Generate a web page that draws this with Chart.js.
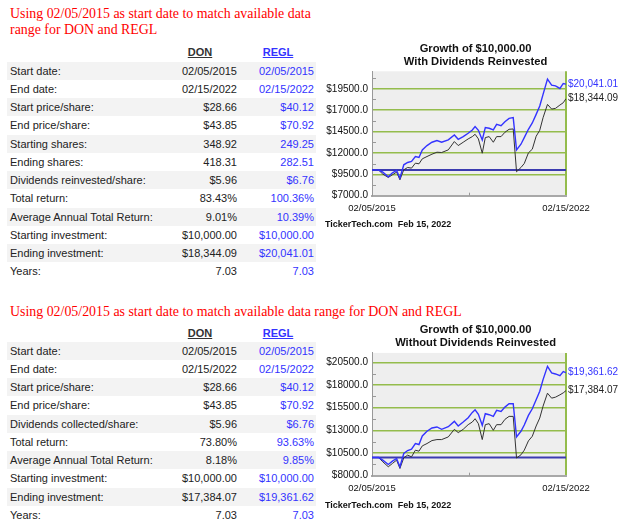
<!DOCTYPE html>
<html>
<head>
<meta charset="utf-8">
<script src="https://cdn.jsdelivr.net/npm/chart.js@4.4.1/dist/chart.umd.min.js"></script>
<style>
  html,body{margin:0;padding:0;}
  body{width:640px;height:527px;overflow:hidden;background:#fff;position:relative;font-family:"Liberation Sans",Arial,sans-serif;}
  .note{position:absolute;left:10px;color:#ff0000;font-family:"Liberation Serif","Times New Roman",serif;font-size:13.9px;line-height:15.5px;white-space:nowrap;}
  .hdr{position:absolute;font-size:11px;font-weight:bold;text-decoration:underline;line-height:14px;transform:translateX(-50%);}
  .row{position:absolute;left:7px;width:309px;height:18px;line-height:18px;font-size:11px;color:#222;}
  .row.alt{background:#f3f3f3;}
  .row span{position:absolute;top:0;white-space:nowrap;}
  .lbl{left:3px;}
  .don{right:79px;}
  .regl{right:2px;color:#3333ff;}
  canvas{position:absolute;left:320px;}
</style>
</head>
<body>
<div class="note" id="note1" style="top:6px;"></div>
<div class="note" id="note2" style="top:304px;"></div>
<div id="tables"></div>
<canvas id="c1" width="320" height="200" style="top:37px;"></canvas>
<canvas id="c2" width="320" height="200" style="top:318px;"></canvas>
<script>
// ---------- table data ----------
const noteLines1 = ["Using 02/05/2015 as start date to match available data", "range for DON and REGL"];
const noteLine2 = "Using 02/05/2015 as start date to match available data range for DON and REGL";
const tickers = ["DON", "REGL"];

const rowLabels1 = ["Start date:","End date:","Start price/share:","End price/share:","Starting shares:","Ending shares:","Dividends reinvested/share:","Total return:","Average Annual Total Return:","Starting investment:","Ending investment:","Years:"];
const donRows1  = ["02/05/2015","02/15/2022","$28.66","$43.85","348.92","418.31","$5.96","83.43%","9.01%","$10,000.00","$18,344.09","7.03"];
const reglRows1 = ["02/05/2015","02/15/2022","$40.12","$70.92","249.25","282.51","$6.76","100.36%","10.39%","$10,000.00","$20,041.01","7.03"];

const rowLabels2 = ["Start date:","End date:","Start price/share:","End price/share:","Dividends collected/share:","Total return:","Average Annual Total Return:","Starting investment:","Ending investment:","Years:"];
const donRows2  = ["02/05/2015","02/15/2022","$28.66","$43.85","$5.96","73.80%","8.18%","$10,000.00","$17,384.07","7.03"];
const reglRows2 = ["02/05/2015","02/15/2022","$40.12","$70.92","$6.76","93.63%","9.85%","$10,000.00","$19,361.62","7.03"];

// ---------- chart data ----------
const xYears = [2015.10,2015.34,2015.49,2015.69,2015.84,2015.99,
  2016.11,2016.25,2016.39,2016.53,2016.67,2016.80,2016.92,
  2017.09,2017.27,2017.45,2017.62,2017.86,
  2018.08,2018.22,2018.40,2018.58,2018.73,2018.83,2018.95,
  2019.09,2019.20,2019.34,2019.49,2019.61,2019.77,2019.91,
  2020.06,2020.21,2020.33,2020.49,2020.61,2020.76,2020.90,
  2021.04,2021.17,2021.29,2021.45,2021.60,2021.74,2021.90,
  2022.02,2022.12];

const reglWithDiv = [10000,10000,9756,9213,9679,9950,
  9057,10610,10882,10998,11581,11464,12357,
  12862,13250,13444,13250,13522,
  14104,13599,13910,14298,14686,15075,14647,
  13522,14958,14880,14686,15346,15191,15657,
  16045,16123,12357,13017,13793,14764,15502,
  16511,17481,18840,20626,19927,19849,19539,
  20121,20041.01];
const donWithDiv = [10000,10000,9523,9135,9446,9756,
  8863,10028,10300,10222,10804,10727,11309,
  11581,11852,12085,12047,12357,
  13328,12862,13250,13638,13910,14182,13638,
  11969,13793,13910,13250,13910,13910,14415,
  14764,14803,9800,10300,10765,12008,12435,
  13949,14647,16123,17675,17132,17210,17598,
  17870,18344.09];
const reglNoDiv = [10000,10000,9718,9243,9608,9900,
  8987,10449,10778,10924,11545,11436,12386,
  12898,13263,13373,13117,13409,
  13994,13482,13921,14396,14981,15273,14762,
  13555,14835,14725,14542,15200,15091,15566,
  15931,15931,12276,12898,13592,14652,15383,
  16370,17320,18599,20061,19330,19221,19038,
  19477,19361.62];
const donNoDiv = [10000,10000,9535,8987,9352,9718,
  8804,9974,10266,10083,10814,10705,11289,
  11545,11874,11984,11984,12276,
  13117,12751,13117,13629,13921,14286,13738,
  11984,13629,13738,13007,13629,13629,14213,
  14542,14542,9950,10303,10814,11838,12349,
  13482,14360,15675,17101,16553,16662,16918,
  17137,17384.07];

const baselineValue = 10000;
const xTickLabels = ["02/05/2015", "02/15/2022"];
const yTicks1 = [7000, 9500, 12000, 14500, 17000, 19500];
const yTicks2 = [8000, 10500, 13000, 15500, 18000, 20500];
const yMax = 21540;
const title1 = ["Growth of $10,000.00", "With Dividends Reinvested"];
const title2 = ["Growth of $10,000.00", "Without Dividends Reinvested"];
const footerText = "TickerTech.com  Feb 15, 2022";

// ---------- build tables ----------
document.getElementById('note1').innerHTML = noteLines1.join('<br>');
document.getElementById('note2').textContent = noteLine2;

function buildTable(hdrTop, rowTop, labels, don, regl) {
  const host = document.getElementById('tables');
  const h1 = document.createElement('div');
  h1.className = 'hdr'; h1.style.left = '200px'; h1.style.top = hdrTop + 'px'; h1.style.color = '#333';
  h1.textContent = tickers[0]; host.appendChild(h1);
  const h2 = document.createElement('div');
  h2.className = 'hdr'; h2.style.left = '278px'; h2.style.top = hdrTop + 'px'; h2.style.color = '#3333ff';
  h2.textContent = tickers[1]; host.appendChild(h2);
  labels.forEach((lab, i) => {
    const r = document.createElement('div');
    r.className = 'row' + (i % 2 === 0 ? ' alt' : '');
    r.style.top = (rowTop + i * 18.25) + 'px';
    r.innerHTML = '<span class="lbl"></span><span class="don"></span><span class="regl"></span>';
    r.children[0].textContent = lab;
    r.children[1].textContent = don[i];
    r.children[2].textContent = regl[i];
    host.appendChild(r);
  });
}
buildTable(45, 61.5, rowLabels1, donRows1, reglRows1);
buildTable(326, 341.7, rowLabels2, donRows2, reglRows2);

// ---------- charts ----------
const FONT = '"Liberation Sans", Arial, sans-serif';
const GREEN = '#94bc4c';

const bgPlugin = {
  id: 'plotBg',
  beforeDraw(chart) {
    const a = chart.chartArea, c = chart.ctx;
    c.save(); c.fillStyle = '#eeeeee';
    c.fillRect(a.left, a.top, a.right - a.left, a.bottom - a.top);
    c.restore();
  }
};

const minorTicksPlugin = {
  id: 'minorTicks',
  afterDraw(chart) {
    const y = chart.scales.y, x = chart.scales.x, a = chart.chartArea, c = chart.ctx;
    const majors = chart.options.plugins.minorTicks.majors;
    const step = majors[1] - majors[0];
    c.save(); c.strokeStyle = '#999'; c.lineWidth = 1;
    for (let v = majors[0] + step / 2; v < y.max; v += step) {
      const py = Math.round(y.getPixelForValue(v)) + 0.5;
      c.beginPath(); c.moveTo(a.left, py); c.lineTo(a.left + 4, py); c.stroke();
    }
    const px = Math.round(x.getPixelForValue((x.min + x.max) / 2)) + 0.5;
    c.beginPath(); c.moveTo(px, a.bottom); c.lineTo(px, a.bottom - 3); c.stroke();
    c.restore();
  }
};

const endLabelsPlugin = {
  id: 'endLabels',
  afterDatasetsDraw(chart) {
    const y = chart.scales.y, a = chart.chartArea, c = chart.ctx;
    c.save();
    c.font = '10px ' + FONT; c.textAlign = 'left'; c.textBaseline = 'middle';
    chart.data.datasets.forEach(ds => {
      if (!ds.endLabel) return;
      const last = ds.data[ds.data.length - 1].y;
      c.fillStyle = ds.endLabelColor;
      c.fillText('$' + last.toLocaleString('en-US', {minimumFractionDigits: 2, maximumFractionDigits: 2}),
        a.right + 2, y.getPixelForValue(last));
    });
    c.restore();
  }
};

function makeChart(id, cfg) {
  const xMin = xYears[0], xMax = xYears[xYears.length - 1];
  const pts = arr => xYears.map((x, i) => ({x: x, y: arr[i]}));
  return new Chart(document.getElementById(id), {
    type: 'line',
    data: {
      datasets: [
        {label: tickers[1], data: pts(cfg.regl), borderColor: '#3333ff', borderWidth: 1.4,
         pointRadius: 0, tension: 0, order: 1, endLabel: true, endLabelColor: '#3333ff'},
        {label: tickers[0], data: pts(cfg.don), borderColor: '#333333', borderWidth: 1,
         pointRadius: 0, tension: 0, order: 2, endLabel: true, endLabelColor: '#222222'},
        {label: 'base', data: [{x: xMin, y: baselineValue}, {x: xMax, y: baselineValue}],
         borderColor: '#3b3bb0', borderWidth: 2, pointRadius: 0, order: 3}
      ]
    },
    options: {
      responsive: false, animation: false, events: [],
      layout: {padding: {left: 5, right: 13.8, top: 0, bottom: 0}},
      plugins: {
        legend: {display: false}, tooltip: {enabled: false},
        title: {display: true, text: cfg.title, color: '#111',
          font: {family: FONT, size: 11.2, weight: 'bold', lineHeight: 1.18},
          padding: {top: 5.4, bottom: cfg.titlePadB}},
        subtitle: {display: true, text: footerText, position: 'bottom', align: 'start', color: '#111',
          font: {family: FONT, size: 9, weight: 'bold', lineHeight: 1.2},
          padding: {top: 0, bottom: 7.3}},
        minorTicks: {majors: cfg.yTicks}
      },
      scales: {
        x: {
          type: 'linear', min: xMin, max: xMax,
          afterBuildTicks: s => { s.ticks = [{value: xMin}, {value: xMax}]; },
          ticks: {callback: (v, i) => xTickLabels[i], autoSkip: false, maxRotation: 0, minRotation: 0,
            padding: 7, color: '#111', font: {family: FONT, size: 9.5}},
          grid: {drawTicks: false, lineWidth: 2,
            color: ctx => (ctx.tick && ctx.tick.value === xMax) ? GREEN : 'rgba(0,0,0,0)'},
          border: {color: '#a8a8a8', width: 2},
          afterFit: s => { s.height = cfg.xH; }
        },
        y: {
          min: cfg.yTicks[0], max: yMax,
          afterBuildTicks: s => { s.ticks = cfg.yTicks.map(v => ({value: v})); },
          ticks: {callback: v => '$' + Number(v).toFixed(1), padding: 4, color: '#111',
            font: {family: FONT, size: 10}},
          grid: {drawTicks: false, lineWidth: 1.5,
            color: ctx => (ctx.tick && ctx.tick.value === cfg.yTicks[0]) ? 'rgba(0,0,0,0)' : GREEN},
          border: {color: '#999', width: 1},
          afterFit: s => { s.width = 47; }
        },
        yLabelSpace: {
          position: 'right', min: cfg.yTicks[0], max: yMax,
          ticks: {display: false}, grid: {display: false, drawTicks: false}, border: {display: false},
          afterFit: s => { s.width = 60.2; }
        }
      }
    },
    plugins: [bgPlugin, minorTicksPlugin, endLabelsPlugin]
  });
}

makeChart('c1', {regl: reglWithDiv, don: donWithDiv, yTicks: yTicks1, title: title1, titlePadB: 2.5, xH: 23.2});
makeChart('c2', {regl: reglNoDiv, don: donNoDiv, yTicks: yTicks2, title: title2, titlePadB: 3.1, xH: 24.2});
</script>
</body>
</html>
